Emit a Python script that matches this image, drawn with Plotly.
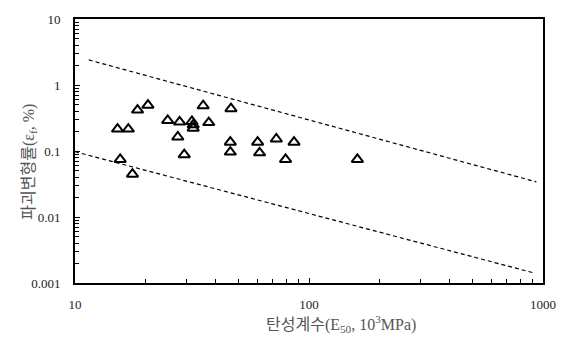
import plotly.graph_objects as go

# Elastic modulus E50 (10^3 MPa) and failure strain (%) for each specimen
modulus = [18.5, 20.5, 15.2, 16.9, 15.6, 17.6, 24.9, 28.0, 31.6, 32.0, 32.0, 27.5,
           29.3, 35.3, 37.3, 46.4, 46.1, 46.1, 60.3, 61.5, 72.5, 86.3, 79.4, 161.0]
strain = [0.417, 0.495, 0.215, 0.215, 0.0746, 0.0445, 0.290, 0.276, 0.280, 0.249,
          0.222, 0.163, 0.0878, 0.485, 0.270, 0.438, 0.136, 0.0964, 0.136, 0.094,
          0.152, 0.136, 0.0746, 0.0746]

# Upper and lower bound lines (endpoints)
upper_x = [11.45, 937.0]
upper_y = [2.40, 0.034]
lower_x = [10.0, 908.0]
lower_y = [0.0976, 0.00143]

x_ticks = [10, 100, 1000]
x_tick_text = ["10", "100", "1000"]
y_ticks = [0.001, 0.01, 0.1, 1, 10]
y_tick_text = ["0.001", "0.01", "0.1", "1", "10"]

x_title = "탄성계수(E<sub>50</sub>, 10<sup>3</sup>MPa)"
y_title = "파괴변형률(ε<sub>f</sub>, %)"

FONT = "Liberation Serif, Noto Sans CJK KR, serif"

x_minor = [m * 10 ** d for d in range(1, 3) for m in range(2, 10)]
y_minor = [m * 10.0 ** d for d in range(-3, 1) for m in range(2, 10)]

fig = go.Figure()
for lx, ly in ((upper_x, upper_y), (lower_x, lower_y)):
    fig.add_trace(go.Scatter(
        x=lx, y=ly, mode="lines",
        line=dict(color="black", width=1.2, dash="4px,3px"),
        showlegend=False, hoverinfo="skip"))

fig.add_trace(go.Scatter(
    x=modulus, y=strain, mode="markers",
    marker=dict(symbol="triangle-up-open", size=10, color="black",
                line=dict(width=2, color="black")),
    showlegend=False))

axis_common = dict(
    type="log", showgrid=False, zeroline=False,
    showline=True, linecolor="black", linewidth=2, mirror=True,
    ticks="inside", ticklen=5, tickwidth=1.3, tickcolor="black",
    tickfont=dict(family=FONT, size=13, color="#222"),
)

fig.update_xaxes(**axis_common, range=[1, 3], tickmode="array",
                 tickvals=x_ticks, ticktext=x_tick_text, ticklabelstandoff=8,
                 minor=dict(ticks="inside", ticklen=4, tickwidth=1.2,
                            tickcolor="black", tickmode="array", tickvals=x_minor))
fig.update_yaxes(**axis_common, range=[-3, 1], tickmode="array",
                 tickvals=y_ticks, ticktext=y_tick_text, ticklabelstandoff=10,
                 minor=dict(ticks="inside", ticklen=4, tickwidth=1.2,
                            tickcolor="black", tickmode="array", tickvals=y_minor))

fig.update_layout(
    width=568, height=338,
    margin=dict(l=75, r=18, t=15, b=55),
    paper_bgcolor="white", plot_bgcolor="white",
    annotations=[
        dict(text=x_title, xref="paper", yref="paper", x=0.568, y=-0.155,
             xanchor="center", yanchor="middle", showarrow=False,
             font=dict(family=FONT, size=16, color="#555555")),
        dict(text=y_title, xref="paper", yref="paper", x=-0.098, y=0.46,
             xanchor="center", yanchor="middle", showarrow=False, textangle=-90,
             font=dict(family=FONT, size=16, color="#555555")),
    ],
)

fig.write_html("out.html")
